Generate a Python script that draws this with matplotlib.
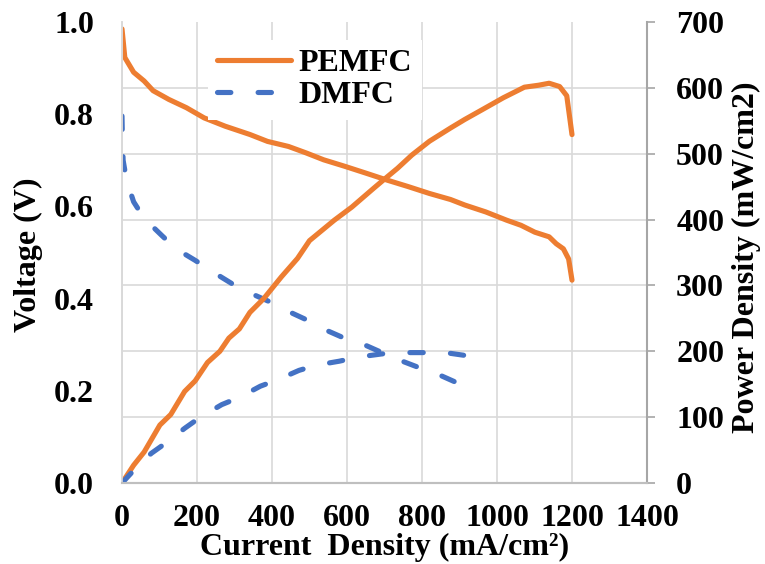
import numpy as np
import matplotlib
matplotlib.use("Agg")
import matplotlib.pyplot as plt
from matplotlib.ticker import FixedLocator

# PEMFC polarization and power curves
pem_i_v = [0, 7.5, 31, 59, 83, 125, 172, 219, 275, 341, 388, 444, 491, 538, 594,
           651, 707, 763, 820, 876, 914, 970, 1026, 1064, 1101, 1139, 1158, 1177, 1191, 1200]
pem_v = [0.985, 0.923, 0.891, 0.872, 0.851, 0.832, 0.814, 0.792, 0.774, 0.756, 0.741,
         0.730, 0.716, 0.701, 0.687, 0.672, 0.657, 0.643, 0.628, 0.615, 0.603, 0.588,
         0.570, 0.559, 0.544, 0.534, 0.519, 0.508, 0.486, 0.44]
pem_i_p = [0, 31, 59, 101, 130, 167, 195, 228, 261, 285, 313, 341, 378, 425, 468, 500,
           566, 613, 670, 697, 735, 773, 820, 876, 914, 961, 1017, 1073, 1111, 1139,
           1167, 1186, 1200]
pem_p = [0, 27, 47, 88, 104, 139, 155, 183, 200, 220, 234, 259, 280, 313, 341, 368,
         399, 419, 447, 460, 478, 498, 519, 539, 552, 567, 585, 601, 604, 607, 602, 588, 529]

# DMFC polarization and power curves
dm_i_v = [0, 1, 3, 12, 31, 59, 106, 144, 195, 242, 294, 336, 397, 439, 500, 543, 599,
          646, 693, 745, 806, 853, 911]
dm_v = [0.796, 0.752, 0.70, 0.657, 0.61, 0.574, 0.537, 0.508, 0.483, 0.458, 0.432,
        0.414, 0.392, 0.374, 0.351, 0.332, 0.312, 0.300, 0.283, 0.265, 0.246, 0.232, 0.211]
dm_i_p = [0, 31, 78, 120, 167, 209, 266, 313, 369, 416, 472, 519, 580, 627, 693, 740,
          806, 862, 911]
dm_p = [0, 19, 45, 62, 83, 100, 119, 130, 147, 157, 171, 179, 185, 191, 196, 198, 198,
        198, 194]

x_ticks = [0, 200, 400, 600, 800, 1000, 1200, 1400]
v_ticks = [0.0, 0.2, 0.4, 0.6, 0.8, 1.0]
p_ticks = [0, 100, 200, 300, 400, 500, 600, 700]

ORANGE = "#ED7D31"
BLUE = "#4472C4"
GRID = "#D9D9D9"
AXIS = "#A6A6A6"

plt.rcParams["font.family"] = ["Liberation Serif", "DejaVu Serif"]
plt.rcParams["font.weight"] = "bold"
FS = 23

fig = plt.figure(figsize=(7.65, 5.64), dpi=100)
ax1 = fig.add_axes([122 / 765, 1 - 483 / 564, 525 / 765, 461 / 564])
ax2 = ax1.twinx()

lw = 3.7
dash = (2.6, 5.3)

l1, = ax1.plot(pem_i_v, pem_v, color=ORANGE, lw=lw, solid_capstyle="round",
               solid_joinstyle="round", label="PEMFC")
l2, = ax1.plot(dm_i_v, dm_v, color=BLUE, lw=lw, dashes=dash, dash_capstyle="round",
               label="DMFC")
ax2.plot(pem_i_p, pem_p, color=ORANGE, lw=lw, solid_capstyle="round",
         solid_joinstyle="round")
ax2.plot(dm_i_p, dm_p, color=BLUE, lw=lw, dashes=dash, dash_capstyle="round")

ax1.set_xlim(x_ticks[0], x_ticks[-1])
ax1.set_ylim(v_ticks[0], v_ticks[-1])
ax2.set_ylim(p_ticks[0], p_ticks[-1])

ax1.set_xticks(x_ticks)
ax1.set_xticklabels([str(t) for t in x_ticks])
ax1.set_yticks(v_ticks)
ax1.set_yticklabels([f"{t:.1f}" for t in v_ticks])
ax2.set_yticks(p_ticks)
ax2.set_yticklabels([str(t) for t in p_ticks])

# horizontal gridlines follow the power axis; drawn on the lower axes
ax1.yaxis.set_minor_locator(FixedLocator([p / p_ticks[-1] for p in p_ticks]))
ax1.grid(which="minor", axis="y", color=GRID, lw=1.2)
ax1.grid(which="major", axis="x", color=GRID, lw=1.2)
ax1.set_axisbelow(True)

ax1.tick_params(axis="x", length=0, pad=15, labelsize=FS)
ax1.tick_params(axis="y", which="both", length=0, pad=20, labelsize=FS)
ax2.tick_params(axis="y", length=6, width=1.2, color=AXIS, pad=15, labelsize=FS,
                direction="out")

for ax in (ax1, ax2):
    ax.spines["top"].set_visible(False)
    ax.spines["left"].set_color(GRID)
    ax.spines["left"].set_linewidth(1.2)
    ax.spines["bottom"].set_color("#BFBFBF")
    ax.spines["bottom"].set_linewidth(1.5)
ax2.spines["right"].set_color(AXIS)
ax2.spines["right"].set_linewidth(1.5)
ax1.spines["right"].set_visible(False)

ax1.set_xlabel("Current  Density (mA/cm²)", fontsize=FS, fontweight="bold", va="center")
ax1.xaxis.set_label_coords(0.5, -0.14)
ax1.set_ylabel("Voltage (V)", fontsize=FS, fontweight="bold", va="center")
ax1.yaxis.set_label_coords(-0.178, 0.495)
ax2.set_ylabel("Power Density (mW/cm2)", fontsize=FS, fontweight="bold", va="center")
ax2.yaxis.set_label_coords(1.189, 0.49)

leg = ax2.legend([l1, l2], ["PEMFC", "DMFC"], loc="upper left",
                 bbox_to_anchor=(0.163, 0.962), frameon=True, fancybox=False,
                 edgecolor="none", facecolor="white", framealpha=1.0,
                 fontsize=FS, handlelength=2.3, handletextpad=0.25,
                 labelspacing=0.08, borderpad=0.3, borderaxespad=0.0)
for t in leg.get_texts():
    t.set_fontweight("bold")

fig.savefig("out.png", dpi=100)
